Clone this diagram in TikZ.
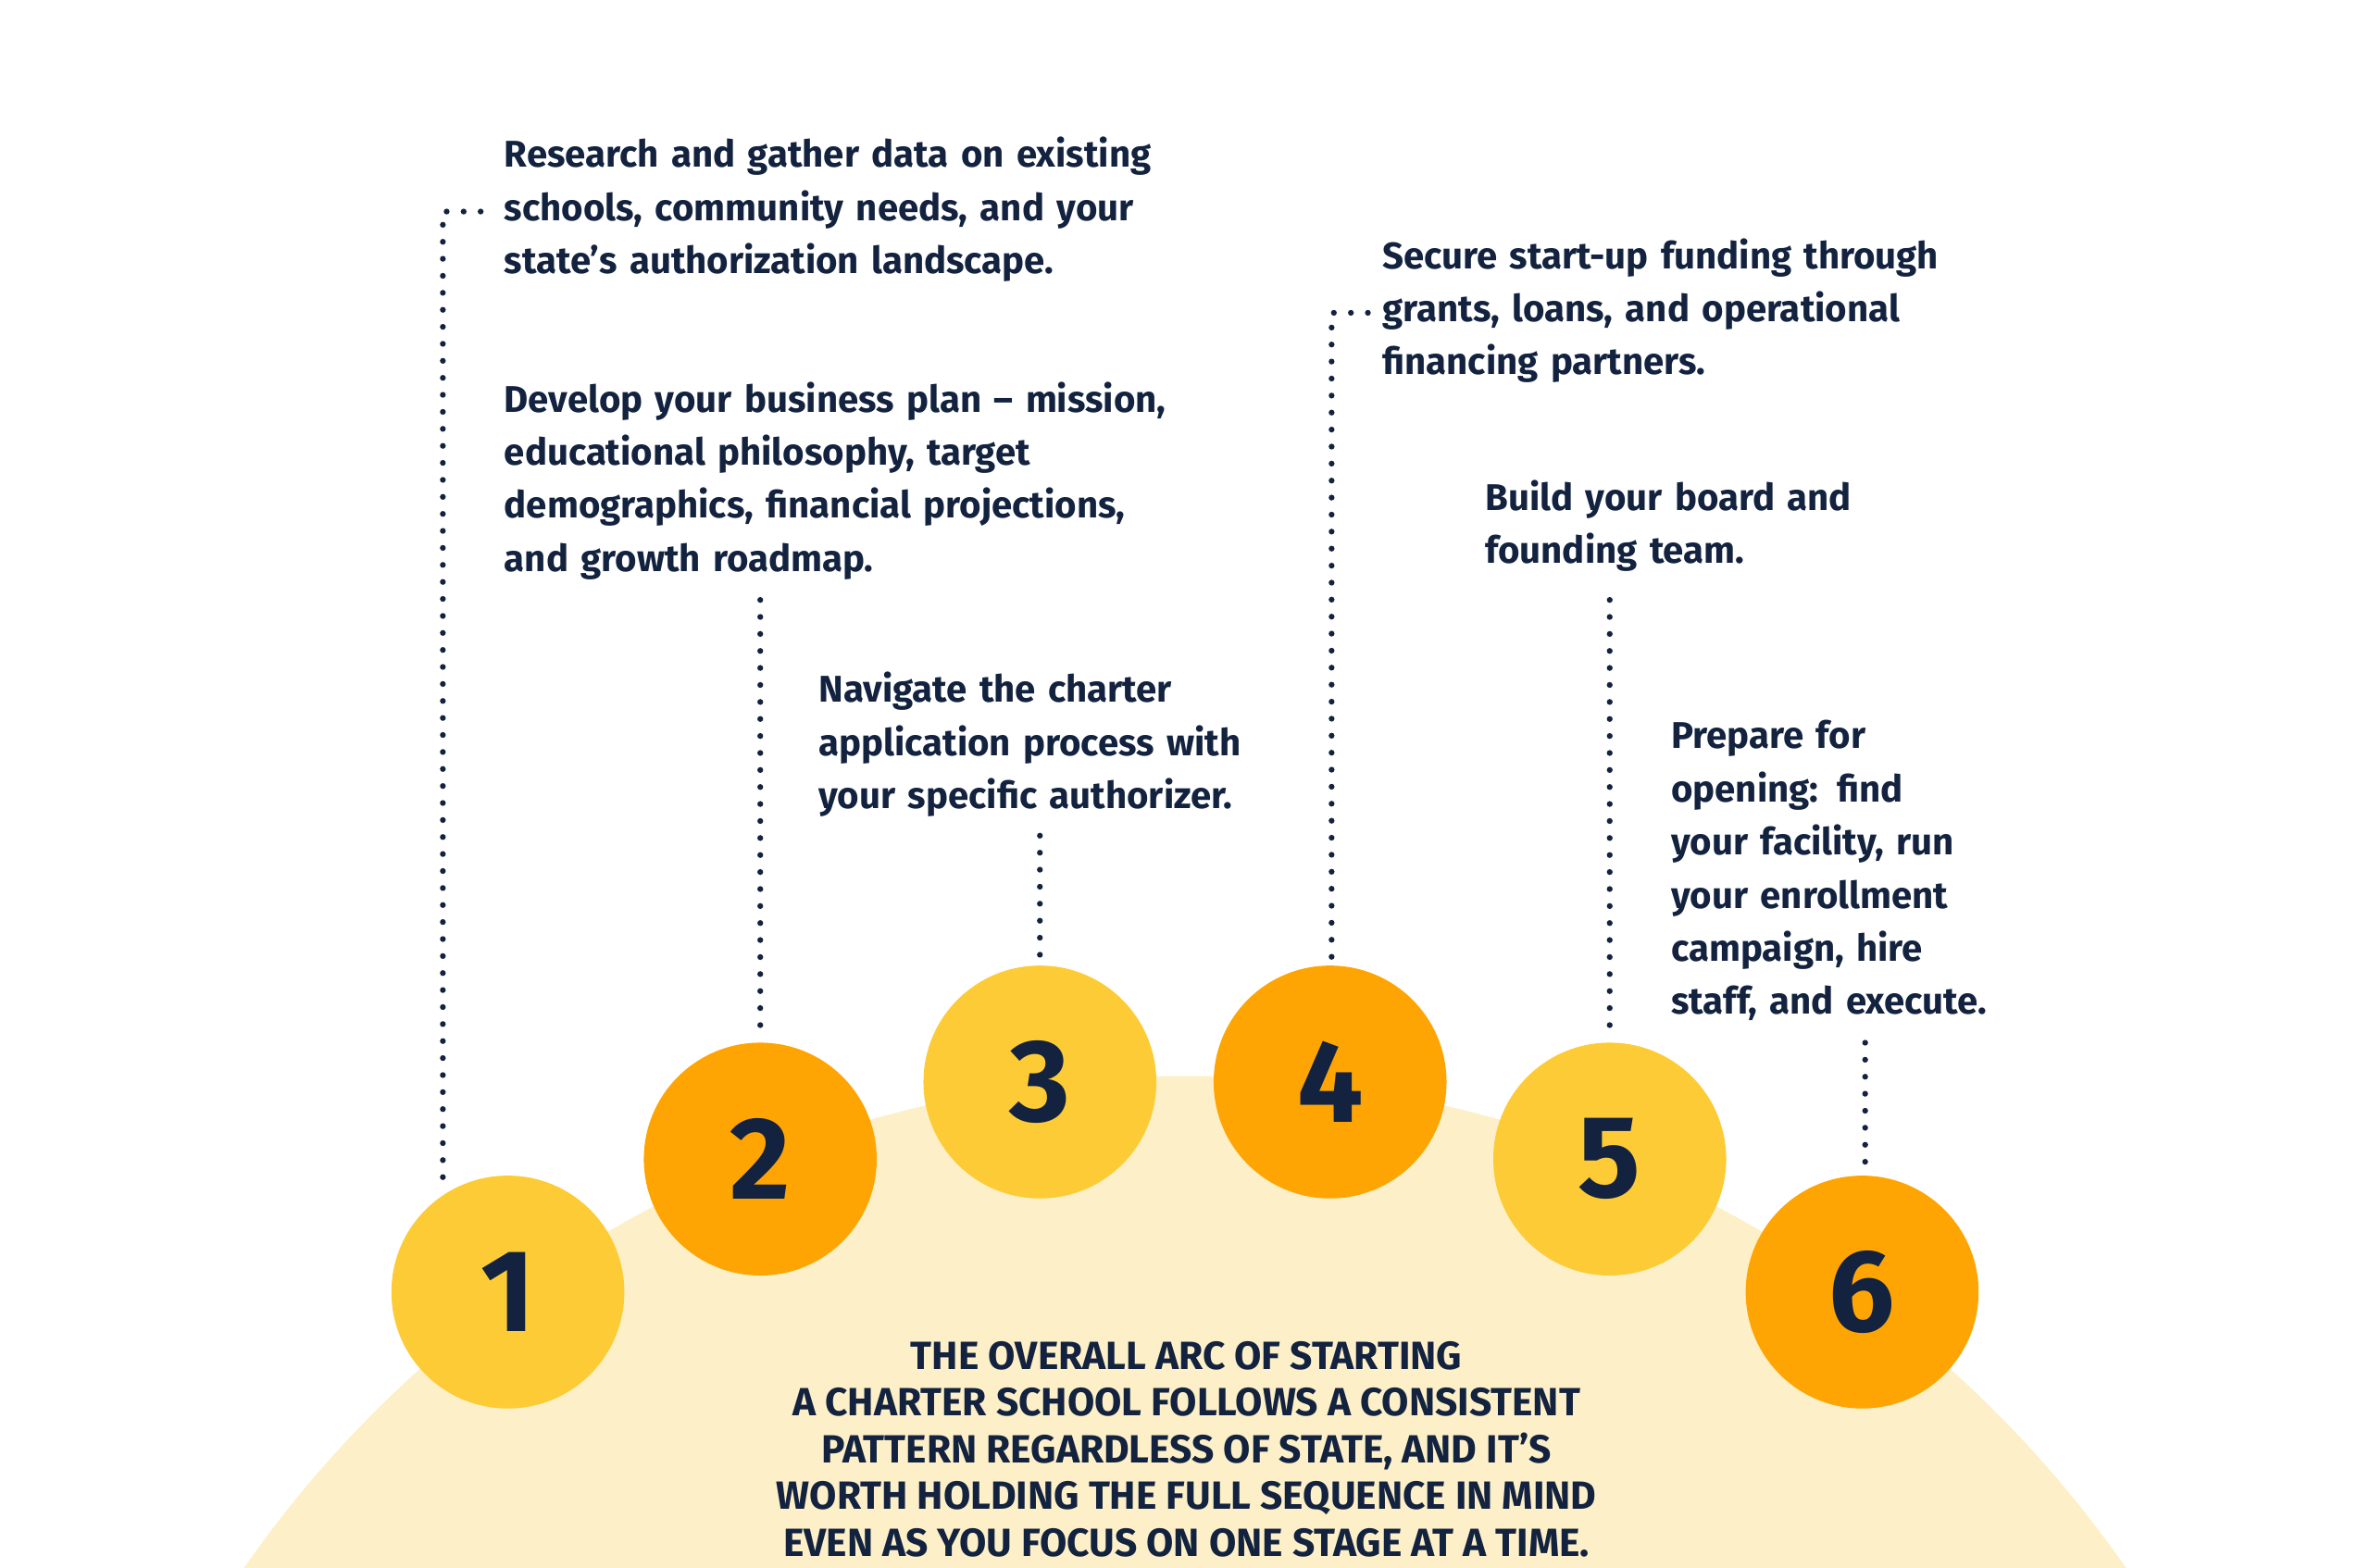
\documentclass[tikz,border=0pt]{standalone}
\usepackage{fontspec}
\setmainfont{Fira Sans}
\definecolor{navy}{HTML}{13233F}
\definecolor{sun}{HTML}{FDCB35}
\definecolor{amber}{HTML}{FFA503}
\definecolor{glow}{HTML}{FDF0C8}
\tikzset{
  step circ/.style={circle, minimum size=1.54cm, inner sep=0, text=navy, font=\fontsize{22}{22}\selectfont\bfseries},
  note/.style={anchor=north west, inner sep=0, align=left, text=navy, font=\fontsize{7}{10}\selectfont\bfseries},
  dotline/.style={navy, line width=1.1pt, dash pattern=on 0pt off 3.2pt, line cap=round}
}
\begin{document}
\begin{tikzpicture}[x=0.01cm, y=-0.01cm]
\useasboundingbox (0,0) rectangle (1568,1037);
\begin{scope}
\clip (0,0) rectangle (1568,1037);
\fill[glow] (784,1470) circle (758);
\end{scope}

\node[step circ, fill=sun] (s1) at (336,855) {1};
\node[step circ, fill=amber] (s2) at (503,767) {2};
\node[step circ, fill=sun] (s3) at (688,716) {3};
\node[step circ, fill=amber] (s4) at (880,716) {4};
\node[step circ, fill=sun] (s5) at (1065,767) {5};
\node[step circ, fill=amber] (s6) at (1232,855) {6};

\node[note, text width=440] (t1) at (333,90) {Research and gather data on existing\\schools, community needs, and your\\state’s authorization landscape.};
\node[note, text width=440] (t2) at (333,252) {Develop your business plan -- mission,\\educational philosophy, target\\demographics, financial projections,\\and growth roadmap.};
\node[note, text width=290] (t3) at (541,444) {Navigate the charter\\application process with\\your specific authorizer.};
\node[note, text width=370] (t4) at (914,157) {Secure start-up funding through\\grants, loans, and operational\\financing partners.};
\node[note, text width=240] (t5) at (982,317) {Build your board and\\founding team.};
\node[note, text width=220] (t6) at (1105,476) {Prepare for\\opening: find\\your facility, run\\your enrollment\\campaign, hire\\staff, and execute.};

\coordinate (a1) at (318,140);
\coordinate (b1) at (293,780);
\coordinate (a4) at (905,207);
\coordinate (b4) at (881,635);
\draw[dotline] (a1) -| (b1);
\draw[dotline] (503,397) -- (s2.north);
\draw[dotline] (688,553) -- (s3.north);
\draw[dotline] (a4) -| (b4);
\draw[dotline] (1065,397) -- (s5.north);
\draw[dotline] (1234,690) -- (1234,775);

\node[align=center, inner sep=0, text=navy, font=\fontsize{7.4}{8.8}\selectfont\bfseries] (summary) at (785,959)
  {THE OVERALL ARC OF STARTING\\A CHARTER SCHOOL FOLLOWS A CONSISTENT\\PATTERN REGARDLESS OF STATE, AND IT’S\\WORTH HOLDING THE FULL SEQUENCE IN MIND\\EVEN AS YOU FOCUS ON ONE STAGE AT A TIME.};
\end{tikzpicture}
\end{document}
